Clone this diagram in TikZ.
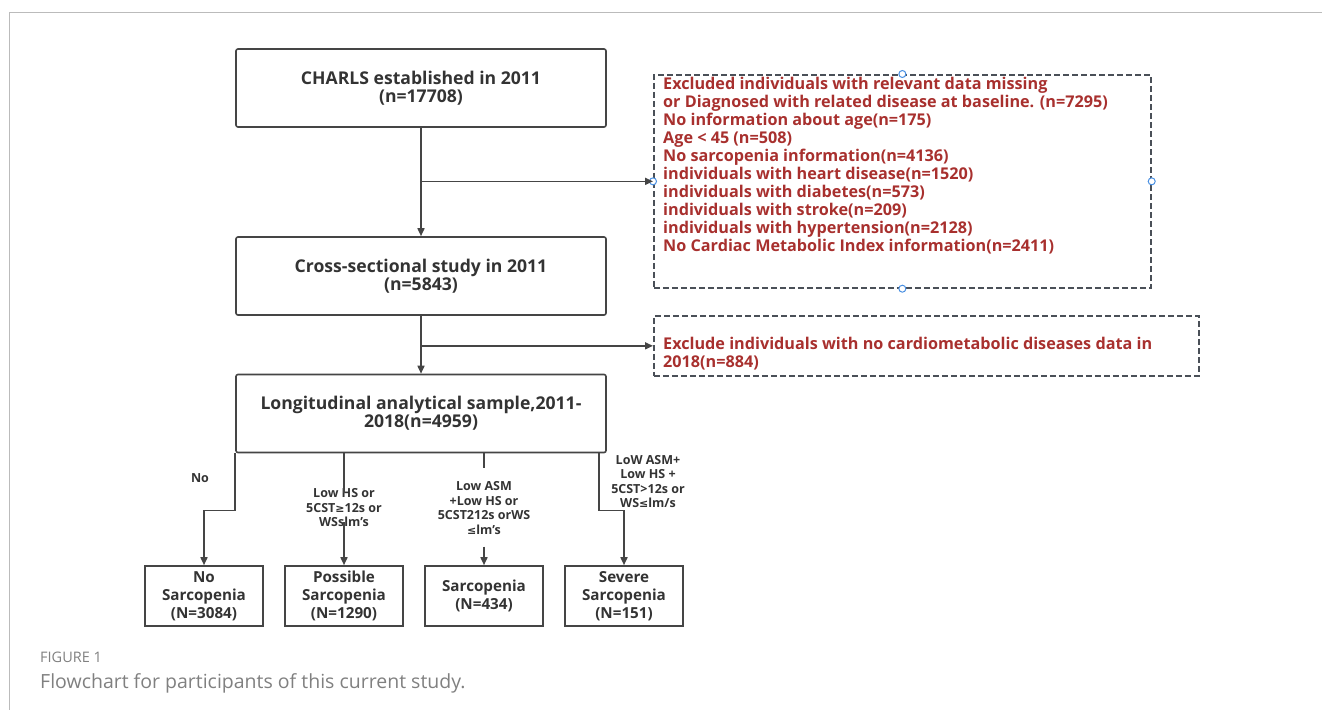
\documentclass[tikz,border=0pt]{standalone}
\usepackage{fontspec}
\setmainfont{Open Sans}
\newfontfamily\symfont{DejaVu Sans}
\usetikzlibrary{arrows.meta,calc}
\definecolor{txt}{HTML}{333333}
\definecolor{ln}{HTML}{454545}
\definecolor{dash}{HTML}{4A5058}
\definecolor{exred}{HTML}{A8302E}
\definecolor{frame}{HTML}{BBBBBB}
\definecolor{cap}{HTML}{808080}
\definecolor{handle}{HTML}{4A90E2}
\begin{document}
\begin{tikzpicture}[x=1pt,y=-1pt,
  mainbox/.style={draw=ln, line width=1.6pt, rounded corners=2pt, minimum width=370pt, minimum height=78pt,
    inner sep=0pt, font=\fontsize{17.6}{18}\selectfont\bfseries, text=txt, align=center},
  endbox/.style={draw=ln, line width=1.6pt, minimum width=118pt, minimum height=60pt,
    inner sep=0pt, font=\fontsize{15.2}{18}\selectfont\bfseries, text=txt, align=center},
  exbox/.style={draw=dash, line width=1.7pt, dash pattern=on 6pt off 3pt, inner sep=0pt, anchor=north west},
  extext/.style={anchor=north west, inner sep=0pt, align=left, text=exred,
    font=\fontsize{16.2}{18}\selectfont\bfseries},
  cond/.style={inner sep=0pt, align=center, text=txt, font=\fontsize{12.5}{14.5}\selectfont\bfseries},
  conn/.style={draw=ln, line width=1.6pt},
  arr/.style={conn, -{Triangle[length=8pt,width=7pt]}},
  hnd/.style={circle, draw=handle, fill=white, line width=1pt, minimum size=7pt, inner sep=0pt}
]
\useasboundingbox (0,0) rectangle (1322,710);
% frame
\draw[frame, line width=1.2pt] (1322,12.5) -- (9.5,12.5) -- (9.5,710);

% main boxes
\node[mainbox] (b1) at (421,88) {CHARLS established in 2011\\(n=17708)};
\node[mainbox] (b2) at (421,276) {Cross-sectional study in 2011\\(n=5843)};
\node[mainbox] (b3) at (421,413.5) {Longitudinal analytical sample,2011-\\2018(n=4959)};

% exclusion boxes
\node[exbox, minimum width=497pt, minimum height=213pt] (ex1) at (653,74) {};
\node[extext] (ex1t) at (663,77) {Excluded individuals with relevant data missing\\
or Diagnosed with related disease at baseline. (n=7295)\\
No information about age(n=175)\\
Age < 45 (n=508)\\
No sarcopenia information(n=4136)\\
individuals with heart disease(n=1520)\\
individuals with diabetes(n=573)\\
individuals with stroke(n=209)\\
individuals with hypertension(n=2128)\\
No Cardiac Metabolic Index information(n=2411)};
\node[exbox, minimum width=545pt, minimum height=60pt] (ex2) at (653,315) {};
\node[extext] (ex2t) at (663,337) {Exclude individuals with no cardiometabolic diseases data in\\2018(n=884)};

% selection handles
\node[hnd] (h1) at (ex1.north) {};
\node[hnd] (h2) at (ex1.west) {};
\node[hnd] (h3) at (ex1.east) {};
\node[hnd] (h4) at (ex1.south) {};

% vertical flow
\draw[arr] (b1.south) -- (b2.north);
\draw[arr] (b1.south |- ex1.west) -- (ex1.west);
\draw[arr] (b2.south) -- (b3.north);
\draw[arr] (b2.south |- ex2.west) -- (ex2.west);

% outcome boxes
\node[endbox] (n1) at (204,596) {No\\Sarcopenia\\(N=3084)};
\node[endbox] (n2) at (344,596) {Possible\\Sarcopenia\\(N=1290)};
\node[endbox] (n3) at (484,596) {Sarcopenia\\(N=434)};
\node[endbox] (n4) at (624,596) {Severe\\Sarcopenia\\(N=151)};

% condition labels
\node[cond] (l1) at (200,478) {No};
\node[cond] (l2) at (344,508) {Low HS or\\5CST{\symfont\fontsize{11}{14}\selectfont ≥}12s or\\WSslm's};
\node[cond] (l3) at (484,508) {Low ASM\\+Low HS or\\5CST212s orWS\\{\symfont\fontsize{11}{14}\selectfont ≤}lm's};
\node[cond] (l4) at (648,481.5) {LoW ASM+\\Low HS +\\5CST>12s or\\WS{\symfont\fontsize{11}{14}\selectfont ≤}lm/s};

% branches
\coordinate (t1) at ($(b3.south west)+(0,57)$);
\draw[arr] (b3.south west) -- (t1) -| (n1.north);
\draw[conn] (b3.south -| l2) -- ([yshift=-4pt]l2.north);
\draw[arr] ([yshift=5pt]l2.south) -- (n2.north);
\draw[conn, shorten >=13pt] (b3.south -| l3) -- (l3.north);
\draw[arr, shorten <=12pt] (l3.south) -- (n3.north);
\coordinate (t4) at ($(b3.south -| 599,0)+(0,57)$);
\draw[arr] (b3.south -| t4) -- (t4) -| (n4.north);

% caption
\node[anchor=base west, inner sep=0pt, text=cap, font=\fontsize{14.5}{16}\selectfont] (fig) at (40,662) {FIGURE 1};
\node[anchor=base west, inner sep=0pt, text=cap, font=\fontsize{19.5}{22}\selectfont] (caption) at (40,688) {Flowchart for participants of this current study.};
\end{tikzpicture}
\end{document}
